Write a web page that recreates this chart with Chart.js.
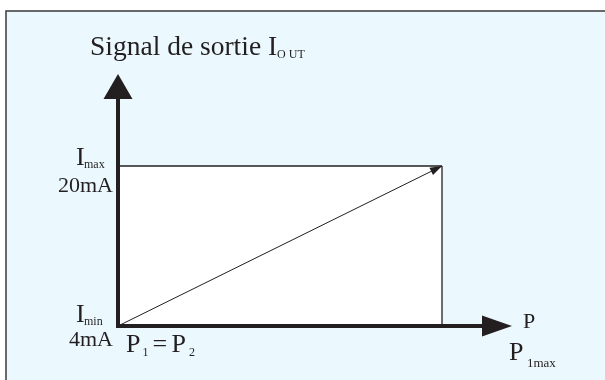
<!DOCTYPE html>
<html>
<head>
<meta charset="utf-8">
<script src="https://cdn.jsdelivr.net/npm/chart.js@4.4.1/dist/chart.umd.min.js"></script>
<style>
  html, body { margin: 0; padding: 0; background: #ffffff; }
  #wrap { width: 605px; height: 380px; }
</style>
</head>
<body>
<div id="wrap"><canvas id="signal-chart" width="605" height="380"></canvas></div>
<script>
// P is normalised: 0 = P1 = P2, 1 = P1max
const pressureRange = [0, 1];
const outputCurrent = [4, 20]; // mA
const axisEnds = { p: 1.216, i: 29.2 };
const yLabelSubs = ["min", "max"];
const yLabelValues = ["4mA", "20mA"];
const titleText = "Signal de sortie ";

const ink = "#231F20";
const serif = "'Liberation Serif', 'Times New Roman', serif";

const signalChart = document.getElementById("signal-chart");

const framePlugin = {
  id: "frame",
  beforeDraw(chart) {
    const ctx = chart.ctx;
    ctx.save();
    ctx.fillStyle = "#EBF9FE";
    ctx.fillRect(6, 11, 605, 380);
    ctx.strokeStyle = "#3a3a3a";
    ctx.lineWidth = 1.5;
    ctx.beginPath();
    ctx.moveTo(6, 385);
    ctx.lineTo(6, 11);
    ctx.lineTo(610, 11);
    ctx.stroke();
    ctx.restore();
  },
};

function text(ctx, str, x, y, size, align) {
  ctx.font = size + "px " + serif;
  ctx.textAlign = align || "left";
  ctx.fillText(str, x, y);
  return ctx.measureText(str).width;
}

const annotationsPlugin = {
  id: "annotations",
  afterDatasetsDraw(chart) {
    const ctx = chart.ctx;
    const xs = chart.scales.x;
    const ys = chart.scales.y;
    const x0 = xs.getPixelForValue(pressureRange[0]);
    const x1 = xs.getPixelForValue(pressureRange[1]);
    const yLo = ys.getPixelForValue(outputCurrent[0]);
    const yHi = ys.getPixelForValue(outputCurrent[1]);
    const xTip = xs.getPixelForValue(axisEnds.p);
    const yTip = ys.getPixelForValue(axisEnds.i);

    ctx.save();
    ctx.fillStyle = ink;

    // axis arrowheads
    ctx.beginPath();
    ctx.moveTo(x0, yTip);
    ctx.lineTo(x0 - 14.5, yTip + 25);
    ctx.lineTo(x0 + 14.5, yTip + 25);
    ctx.closePath();
    ctx.fill();

    ctx.beginPath();
    ctx.moveTo(xTip, yLo);
    ctx.lineTo(xTip - 30, yLo - 10.5);
    ctx.lineTo(xTip - 30, yLo + 10.5);
    ctx.closePath();
    ctx.fill();

    // arrowhead on the signal line
    const ang = Math.atan2(yHi - yLo, x1 - x0);
    const len = 12, half = 4;
    ctx.beginPath();
    ctx.moveTo(x1, yHi);
    ctx.lineTo(x1 - len * Math.cos(ang) + half * Math.sin(ang), yHi - len * Math.sin(ang) - half * Math.cos(ang));
    ctx.lineTo(x1 - len * Math.cos(ang) - half * Math.sin(ang), yHi - len * Math.sin(ang) + half * Math.cos(ang));
    ctx.closePath();
    ctx.fill();

    // title
    let w = text(ctx, titleText, 90, 55, 27.5);
    w += text(ctx, "I", 90 + w, 55, 27.5);
    text(ctx, "O UT", 90 + w, 58, 12);

    // y labels
    [yLo, yHi].forEach((py, i) => {
      const base = i === 0 ? py - 4 : py - 1;
      text(ctx, "I", 76, base, 26);
      text(ctx, yLabelSubs[i], 84, base + 3, 12);
      text(ctx, yLabelValues[i], x0 - 5, i === 0 ? py + 20 : py + 26, 22, "right");
    });

    // x labels
    let px = x0 + 8;
    px += text(ctx, "P", px, yLo + 26, 26);
    text(ctx, "1", px + 2, yLo + 30, 12);
    px += 12;
    px += text(ctx, "= ", px, yLo + 26, 26);
    px += text(ctx, "P", px - 2, yLo + 26, 26) - 2;
    text(ctx, "2", px + 3, yLo + 30, 12);

    text(ctx, "P", xTip + 11, yLo + 2, 22);
    text(ctx, "P", xTip - 3, yLo + 34, 26);
    text(ctx, "1max", xTip + 15, yLo + 41, 13);

    ctx.restore();
  },
};

const lineStyle = {
  showLine: true,
  tension: 0,
  pointRadius: 0,
  borderColor: ink,
  fill: false,
  clip: false,
};

new Chart(signalChart, {
  type: "scatter",
  data: {
    datasets: [
      {
        ...lineStyle,
        label: "axe P",
        borderWidth: 4,
        data: [{ x: pressureRange[0], y: outputCurrent[0] }, { x: axisEnds.p - 0.05, y: outputCurrent[0] }],
      },
      {
        ...lineStyle,
        label: "axe I",
        borderWidth: 4,
        data: [{ x: pressureRange[0], y: outputCurrent[0] - 0.2 }, { x: pressureRange[0], y: axisEnds.i - 1.5 }],
      },
      {
        ...lineStyle,
        label: "signal",
        borderWidth: 1,
        data: [{ x: pressureRange[0], y: outputCurrent[0] }, { x: pressureRange[1], y: outputCurrent[1] }],
      },
      {
        ...lineStyle,
        label: "P1max",
        borderWidth: 1.3,
        data: [{ x: pressureRange[1], y: outputCurrent[0] }, { x: pressureRange[1], y: outputCurrent[1] }],
      },
      {
        ...lineStyle,
        label: "Imax",
        borderWidth: 1.3,
        backgroundColor: "#ffffff",
        fill: { value: outputCurrent[0] },
        data: [{ x: pressureRange[0], y: outputCurrent[1] }, { x: pressureRange[1], y: outputCurrent[1] }],
      },
    ],
  },
  options: {
    responsive: false,
    animation: false,
    layout: { padding: { left: 118, right: 1, top: 16, bottom: 14 } },
    plugins: {
      legend: { display: false },
      tooltip: { enabled: false },
    },
    scales: {
      x: { type: "linear", display: false, min: 0, max: 1.5 },
      y: { type: "linear", display: false, min: 0, max: 35 },
    },
  },
  plugins: [framePlugin, annotationsPlugin],
});
</script>
</body>
</html>
